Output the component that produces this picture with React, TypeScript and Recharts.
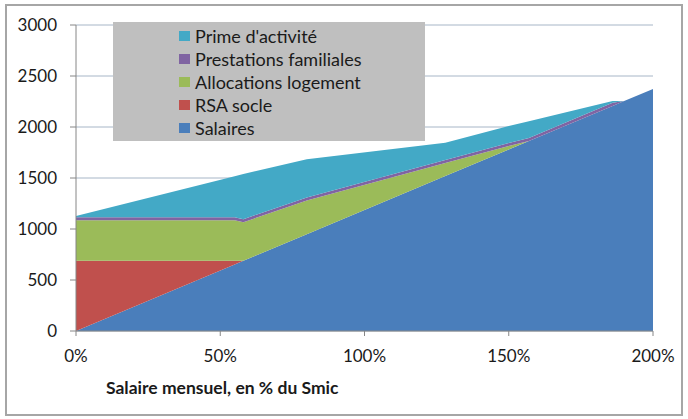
import { AreaChart, Area, XAxis, YAxis, CartesianGrid, Legend, Label } from 'recharts';

// salaire mensuel, en % du Smic
const pct = [0, 55, 58, 80, 128, 150, 157, 186, 190, 200];
const salaires = [0, 653, 688, 949, 1519, 1780, 1863, 2207, 2254, 2373];
const rsaSocle = [688, 35, 0, 0, 0, 0, 0, 0, 0, 0];
const allocLogement = [398, 398, 378, 331, 127, 33, 0, 0, 0, 0];
const prestFamiliales = [30, 30, 30, 30, 30, 30, 30, 30, 0, 0];
const primeActivite = [11, 402, 443, 375, 170, 167, 164, 18, 0, 0];

const xTicks = [0, 50, 100, 150, 200];
const yTicks = [0, 500, 1000, 1500, 2000, 2500, 3000];

// bottom to top of the stack
const series = [
  { key: 'sal', name: 'Salaires', color: '#4a7ebb', values: salaires },
  { key: 'rsa', name: 'RSA socle', color: '#c0504d', values: rsaSocle },
  { key: 'al', name: 'Allocations logement', color: '#9bbb59', values: allocLogement },
  { key: 'pf', name: 'Prestations familiales', color: '#8064a2', values: prestFamiliales },
  { key: 'pa', name: "Prime d'activité", color: '#43a9c6', values: primeActivite },
];

const data = pct.map((p, i) => {
  const row: Record<string, number> = { pct: p };
  series.forEach((s) => {
    row[s.key] = s.values[i];
  });
  return row;
});

const font = 'Lato, "Open Sans", sans-serif';

function LegendBox() {
  return (
    <div
      style={{
        background: '#bfbfbf',
        width: 312,
        height: 119,
        boxSizing: 'border-box',
        paddingTop: 2,
        paddingLeft: 66,
        fontFamily: font,
        fontSize: 18,
        color: '#1a1a1a',
      }}
    >
      {[...series].reverse().map((s) => (
        <div key={s.key} style={{ display: 'flex', alignItems: 'center', height: 23 }}>
          <span style={{ width: 11, height: 10, background: s.color, marginRight: 5, display: 'inline-block' }} />
          <span>{s.name}</span>
        </div>
      ))}
    </div>
  );
}

export default function App() {
  return (
    <div style={{ position: 'absolute', left: 0, top: 0, width: 688, height: 419, background: '#fff' }}>
      <div
        style={{
          position: 'absolute',
          left: 5,
          top: 4,
          width: 678,
          height: 412,
          border: '2px solid #a6a6a6',
          boxSizing: 'border-box',
        }}
      />
      <div style={{ position: 'absolute', left: 0, top: 0 }}>
        <AreaChart width={688} height={419} data={data} margin={{ top: 25, right: 35, left: 14, bottom: 0 }}>
          <CartesianGrid vertical={false} stroke="#a7b6c7" />
          <XAxis
            dataKey="pct"
            type="number"
            domain={[0, 200]}
            ticks={xTicks}
            tickFormatter={(v) => `${v}%`}
            height={88}
            tickSize={5}
            tickMargin={14}
            stroke="#868686"
            tick={{ fill: '#1a1a1a', fontSize: 17, fontFamily: font }}
          >
            <Label
              content={() => (
                <text x={106} y={394} fontFamily={font} fontSize={17.5} fontWeight="bold" fill="#1a1a1a">
                  Salaire mensuel, en % du Smic
                </text>
              )}
            />
          </XAxis>
          <YAxis
            type="number"
            domain={[0, 3000]}
            ticks={yTicks}
            width={62}
            tickSize={6}
            tickMargin={13}
            stroke="#868686"
            tick={{ fill: '#1a1a1a', fontSize: 17, fontFamily: font }}
          />
          {series.map((s) => (
            <Area
              key={s.key}
              type="linear"
              dataKey={s.key}
              name={s.name}
              stackId="1"
              stroke="none"
              fill={s.color}
              fillOpacity={1}
              isAnimationActive={false}
            />
          ))}
          <Legend
            layout="vertical"
            align="center"
            verticalAlign="middle"
            content={() => <LegendBox />}
            wrapperStyle={{ left: 113, top: 22, width: 312, height: 119 }}
          />
        </AreaChart>
      </div>
    </div>
  );
}
